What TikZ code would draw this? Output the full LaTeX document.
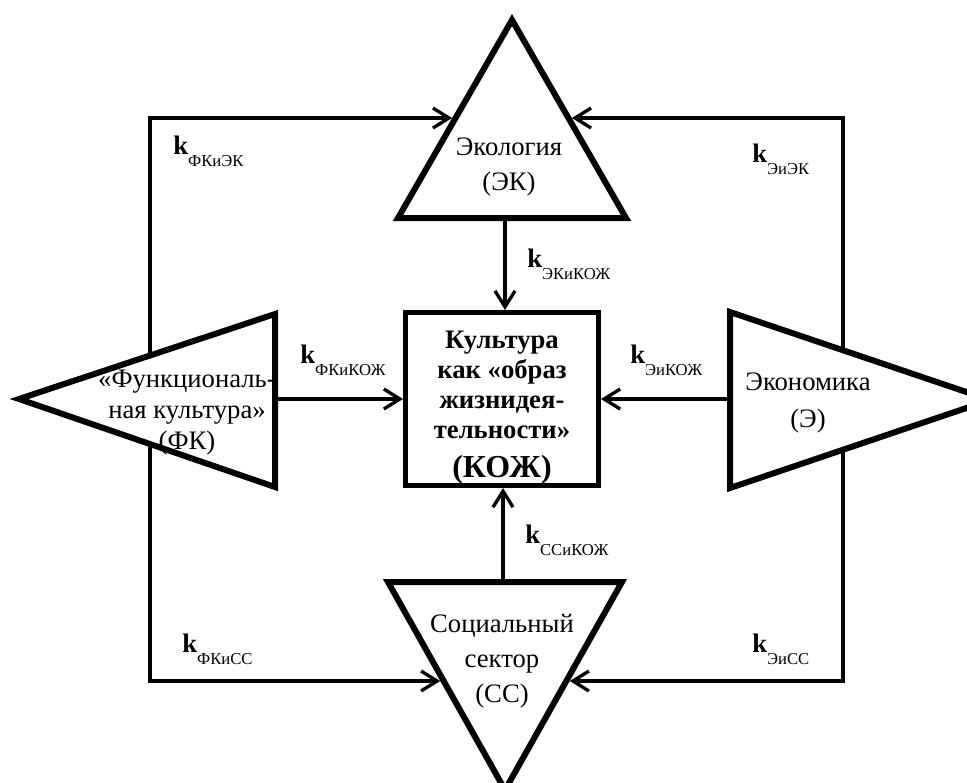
\documentclass[tikz,border=0pt]{standalone}
\usepackage{fontspec}
\setmainfont{Liberation Serif}
\usetikzlibrary{arrows.meta,calc}

\newcommand{\kk}[1]{\textbf{k}\raisebox{-9pt}{\fontsize{12.5}{14}\selectfont #1}}
\newcommand{\rows}[1]{\begin{tabular}[t]{@{}c@{}}#1\end{tabular}}

\begin{document}
\begin{tikzpicture}[x=0.75pt, y=-0.75pt]
\tikzset{ >={Straight Barb[length=12pt, width=15pt]}, inner sep=0pt,
  conn/.style={->, line width=2.5pt},
  tri/.style={line width=4.5pt},
  kozh/.style={draw, line width=4pt, minimum width=144.5pt, minimum height=129.5pt},
  txt/.style={anchor=base, font=\fontsize{20}{26.25}\selectfont},
  klab/.style={anchor=base west, font=\fontsize{20}{24}\selectfont},
}

\useasboundingbox (0,0) rectangle (967,782);
%\draw [lightgray, dashed](0,0) grid[step=50] (967,782);

\coordinate (EK-t) at (512,20);
\coordinate (EK-l) at (398,218);
\coordinate (EK-r) at (626,218);
\coordinate (EK-b) at (505,218);

\coordinate (FK-a) at (19,399);
\coordinate (FK-t) at (275,314);
\coordinate (FK-b) at (275,487);
\coordinate (FK-m) at (275,399);

\coordinate (E-a) at (990,400);
\coordinate (E-t) at (730,312);
\coordinate (E-b) at (730,488);
\coordinate (E-m) at (730,399);

\coordinate (SS-a) at (505,790);
\coordinate (SS-l) at (388,582);
\coordinate (SS-r) at (622,582);
\coordinate (SS-m) at (503,582);

\node [kozh] (KOZh) at (502,399) {};

\draw [tri] (EK-t) -- (EK-r) -- (EK-l) -- cycle;
\draw [tri] (FK-a) -- (FK-t) -- (FK-b) -- cycle;
\draw [tri] (E-a) -- (E-t) -- (E-b) -- cycle;
\draw [tri] (SS-a) -- (SS-l) -- (SS-r) -- cycle;

\coordinate (fk-up)   at ($(FK-a)!0.512!(FK-t)$);
\coordinate (fk-down) at ($(FK-a)!0.512!(FK-b)$);
\coordinate (e-up)    at ($(E-t)!0.435!(E-a)$);
\coordinate (e-down)  at ($(E-b)!0.435!(E-a)$);
\coordinate (ek-l)    at ($(EK-l)!0.505!(EK-t)$);
\coordinate (ek-r)    at ($(EK-r)!0.505!(EK-t)$);
\coordinate (ss-l)    at ($(SS-l)!0.476!(SS-a)$);
\coordinate (ss-r)    at ($(SS-r)!0.476!(SS-a)$);

\draw [conn] (EK-b) -- (EK-b |- KOZh.north);
\draw [conn] (SS-m) -- (SS-m |- KOZh.south);
\draw [conn] (FK-m) -- (KOZh.west);
\draw [conn] (E-m)  -- (KOZh.east);

\draw [conn, shorten >=2.6pt] (fk-up)   |- (ek-l);
\draw [conn, shorten >=2.6pt] (e-up)    |- (ek-r);
\draw [conn, shorten >=2.6pt] (fk-down) |- (ss-l);
\draw [conn, shorten >=2.6pt] (e-down)  |- (ss-r);

\node [txt] (EKtext) at (509,155) {\rows{Экология\\(ЭК)}};
\node [txt, font=\fontsize{20}{27.75}\selectfont] (Etext) at (808,390) {\rows{Экономика\\(Э)}};
\node [txt] (SStext) at (502,632) {\rows{Социальный\\сектор\\(СС)}};
\node [txt, font=\fontsize{20}{23.6}\selectfont] (FKtext) at (187,387) {\rows{«Функциональ-\\ная культура»\\(ФК)}};
\node [txt, font=\bfseries\fontsize{20}{22.5}\selectfont] (KOZhtext) at (502,348)
  {\rows{Культура\\как «образ\\жизнидея-\\тельности»\\[6pt]\fontsize{24}{26}\selectfont (КОЖ)}};

\node [klab] (kFKEK)   at (173,154) {\kk{ФКиЭК}};
\node [klab] (kEEK)    at (752,162) {\kk{ЭиЭК}};
\node [klab] (kEKKOZh) at (527,267) {\kk{ЭКиКОЖ}};
\node [klab] (kFKKOZh) at (300,363) {\kk{ФКиКОЖ}};
\node [klab] (kEKOZh)  at (630,363) {\kk{ЭиКОЖ}};
\node [klab] (kSSKOZh) at (525,543) {\kk{ССиКОЖ}};
\node [klab] (kFKSS)   at (182,652) {\kk{ФКиСС}};
\node [klab] (kESS)    at (752,652) {\kk{ЭиСС}};
\end{tikzpicture}
\end{document}
